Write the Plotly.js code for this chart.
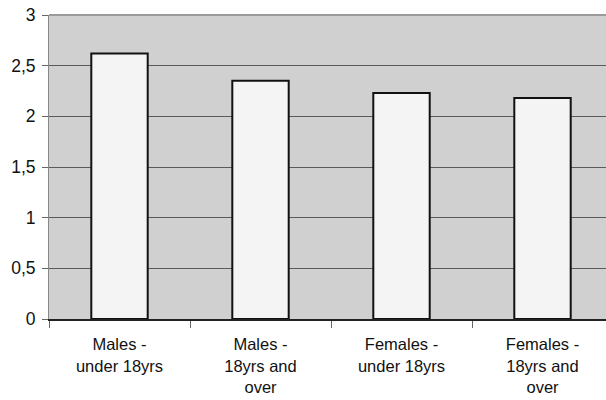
<!DOCTYPE html>
<html>
<head>
<meta charset="utf-8">
<script src="https://cdn.plot.ly/plotly-3.0.1.min.js"></script>
<style>
html,body{margin:0;padding:0;overflow:hidden;background:#fff;}
#chart{width:620px;height:400px;}
</style>
</head>
<body>
<div id="chart"></div>
<script>
var categories = ["Males -<br>under 18yrs", "Males -<br>18yrs and<br>over", "Females -<br>under 18yrs", "Females -<br>18yrs and<br>over"];
var values = [2.62, 2.35, 2.23, 2.18];
var yTicks = [0, 0.5, 1, 1.5, 2, 2.5, 3];

var trace = {
  type: "bar",
  x: categories,
  y: values,
  marker: {color: "#f4f4f4", line: {color: "#111", width: 2}},
  hoverinfo: "skip"
};

var layout = {
  width: 620,
  height: 400,
  margin: {l: 49, r: 7, t: 15, b: 81},
  paper_bgcolor: "#ffffff",
  plot_bgcolor: "#d0d0d0",
  separators: ", ",
  bargap: 0.6,
  showlegend: false,
  font: {family: "Liberation Sans, Arial, sans-serif", size: 16.5, color: "#111"},
  xaxis: {
    type: "category",
    range: [-0.5, 3.5],
    showgrid: false,
    showline: true,
    linecolor: "#222",
    linewidth: 1.5,
    ticks: "outside",
    tickson: "boundaries",
    ticklen: 7,
    tickcolor: "#666",
    tickwidth: 1,
    ticklabelstandoff: 10,
    tickfont: {size: 16.5, color: "#111"},
    fixedrange: true
  },
  yaxis: {
    range: [0, 3],
    tickvals: yTicks,
    ticks: "outside",
    ticklen: 6,
    tickcolor: "#666",
    showline: true,
    linecolor: "#888",
    linewidth: 1,
    showgrid: true,
    gridcolor: "#5a5a5a",
    gridwidth: 1,
    zeroline: false,
    ticklabelstandoff: 3,
    tickfont: {size: 17.5, color: "#111"},
    fixedrange: true
  },
  shapes: [{
    type: "line", xref: "paper", yref: "paper",
    x0: 0, x1: 1, y0: 1, y1: 1,
    line: {color: "#9a9a9a", width: 2}
  }]
};

Plotly.newPlot("chart", [trace], layout, {displayModeBar: false, staticPlot: true});
</script>
</body>
</html>
